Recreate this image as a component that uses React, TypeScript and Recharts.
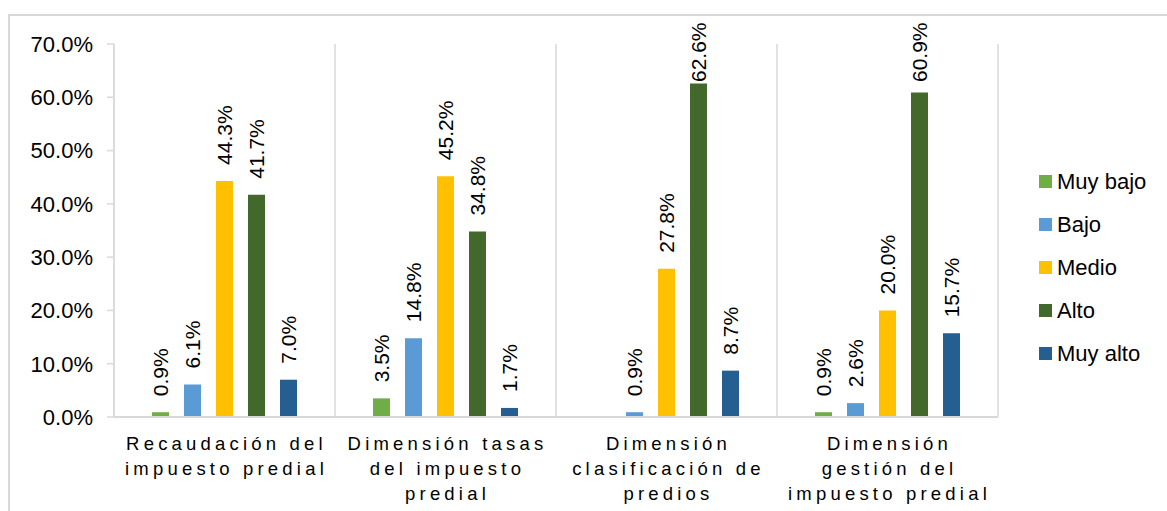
import { BarChart, Bar, XAxis, YAxis, CartesianGrid, Legend, LabelList } from "recharts";

const categories = [
  ["Recaudación del", "impuesto predial"],
  ["Dimensión tasas", "del impuesto", "predial"],
  ["Dimensión", "clasificación de", "predios"],
  ["Dimensión", "gestión del", "impuesto predial"],
];

const muyBajo = [0.9, 3.5, null, 0.9];
const bajo = [6.1, 14.8, 0.9, 2.6];
const medio = [44.3, 45.2, 27.8, 20.0];
const alto = [41.7, 34.8, 62.6, 60.9];
const muyAlto = [7.0, 1.7, 8.7, 15.7];

const yTicks = [0, 10, 20, 30, 40, 50, 60, 70];

const SERIES = [
  { key: "muyBajo", name: "Muy bajo", color: "#70AD47" },
  { key: "bajo", name: "Bajo", color: "#5B9BD5" },
  { key: "medio", name: "Medio", color: "#FFC000" },
  { key: "alto", name: "Alto", color: "#43682B" },
  { key: "muyAlto", name: "Muy alto", color: "#255E91" },
];

const data = categories.map((lines, i) => ({
  name: lines.join(" "),
  muyBajo: muyBajo[i],
  bajo: bajo[i],
  medio: medio[i],
  alto: alto[i],
  muyAlto: muyAlto[i],
}));

const FONT = "'Liberation Sans', Arial, sans-serif";
const GRID = "#d9d9d9";

const CategoryTick = (props: any) => {
  const { x, y, index } = props;
  const lines = categories[index] || [];
  return (
    <g>
      {lines.map((line, i) => (
        <text
          key={i}
          x={x + 2}
          y={y + 26 + i * 25}
          textAnchor="middle"
          dominantBaseline="central"
          fontSize={18.5}
          letterSpacing={4.2}
          fill="#000"
          fontFamily={FONT}
        >
          {line}
        </text>
      ))}
    </g>
  );
};

const BarLabel = (props: any) => {
  const { x, y, width, value } = props;
  if (value === null || value === undefined) return null;
  const cx = x + width / 2;
  const by = Math.max(y - 16, 82);
  return (
    <text
      x={cx}
      y={by}
      transform={`rotate(-90 ${cx} ${by})`}
      textAnchor="start"
      dominantBaseline="central"
      fontSize={21}
      fill="#000"
      fontFamily={FONT}
    >
      {Number(value).toFixed(1)}%
    </text>
  );
};

// keep the series order of the original legend
const LegendContent = () => (
  <div style={{ fontFamily: FONT, fontSize: 22, color: "#000" }}>
    {SERIES.map((s) => (
      <div key={s.key} style={{ display: "flex", alignItems: "center", height: 43 }}>
        <span style={{ width: 13, height: 13, background: s.color, marginRight: 5, display: "inline-block" }} />
        <span>{s.name}</span>
      </div>
    ))}
  </div>
);

export default function App() {
  return (
    <div style={{ position: "fixed", left: 0, top: 0, width: 1167, height: 511, overflow: "hidden", background: "#fff" }}>
      <div
        style={{
          position: "absolute",
          left: 8,
          top: 14,
          width: 1300,
          height: 600,
          borderTop: `2px solid ${GRID}`,
          borderLeft: `2px solid ${GRID}`,
        }}
      />
      <div style={{ position: "absolute", left: 0, top: 0 }}>
        <BarChart
          width={1167}
          height={511}
          data={data}
          margin={{ top: 44, right: 169, bottom: 14, left: 14 }}
          barSize={17}
          barGap={15}
        >
          <CartesianGrid
            horizontal={false}
            stroke={GRID}
            strokeWidth={1.5}
            verticalCoordinatesGenerator={({ offset }: any) =>
              [0, 1, 2, 3, 4].map((i) => offset.left + (i * offset.width) / 4)
            }
          />
          <XAxis
            dataKey="name"
            height={80}
            tickLine={false}
            tickSize={0}
            tickMargin={0}
            axisLine={{ stroke: GRID, strokeWidth: 2 }}
            tick={<CategoryTick />}
            interval={0}
          />
          <YAxis
            width={100}
            domain={[0, 70]}
            ticks={yTicks}
            interval={0}
            tickSize={7}
            tickMargin={14}
            axisLine={{ stroke: GRID, strokeWidth: 1.5 }}
            tickLine={{ stroke: GRID, strokeWidth: 1.5 }}
            tick={{ fontSize: 22, fill: "#000", fontFamily: FONT }}
            tickFormatter={(v: number) => `${v.toFixed(1)}%`}
          />
          <Legend
            layout="vertical"
            align="center"
            verticalAlign="middle"
            wrapperStyle={{ position: "absolute", left: 1039, top: 160, width: 130 }}
            content={<LegendContent />}
          />
          {SERIES.map((s) => (
            <Bar key={s.key} dataKey={s.key} name={s.name} fill={s.color} isAnimationActive={false}>
              <LabelList dataKey={s.key} content={<BarLabel />} />
            </Bar>
          ))}
        </BarChart>
      </div>
    </div>
  );
}
